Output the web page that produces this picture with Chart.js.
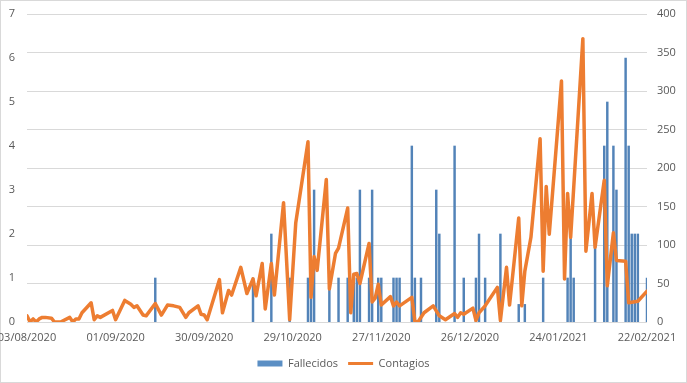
<!DOCTYPE html>
<html><head><meta charset="utf-8">
<script src="https://cdn.jsdelivr.net/npm/chart.js@4.4.1/dist/chart.umd.min.js"></script>
<style>html,body{margin:0;padding:0;background:#fff}#wrap{width:687px;height:383px;position:relative}</style>
</head><body><div id="wrap"><canvas id="c" width="687" height="383"></canvas></div>
<script>
// x-axis tick labels (every 29 days from 03/08/2020)
const tickLabels = ['03/08/2020','01/09/2020','30/09/2020','29/10/2020','27/11/2020','26/12/2020','24/01/2021','22/02/2021'];
const tickStepDays = 29;
const lastDay = 203;

// Fallecidos (left axis) : day offset from 03/08/2020 and value
const fallecidosDays   = [42,74,80,86,92,93,94,99,102,105,107,108,109,112,113,115,116,120,121,122,126,127,129,134,135,140,143,147,148,150,155,161,163,169,177,178,179,186,189,190,192,193,196,197,198,199,200,203];
const fallecidosValues = [1, 1, 2, 1, 1, 1, 3, 1, 1,  1,  1,  1,  3,  1,  3,  1,  1,  1,  1,  1,  4,  1,  1,  3,  2,  4,  1,  1,  2,  1,  2,  0.4,0.4,1, 1,  2,  1,  2,  4,  5,  4,  3,  6,  4,  2,  2,  2,  1];

// Contagios (right axis)
const contagiosDays   = [0,1,2,3,4,5,6,8,9,11,14,15,16,17,18,21,22,23,24,28,29,32,34,35,36,38,39,42,44,46,48,50,52,53,56,57,58,59,63,64,66,67,70,72,74,75,77,78,80,81,84,86,88,92,93,94,95,98,99,101,102,105,106,107,108,109,112,113,114,115,116,119,120,121,122,126,127,128,130,133,135,137,140,141,142,143,146,147,148,150,154,155,157,158,161,162,163,165,168,169,170,171,175,176,177,178,182,183,185,186,189,190,192,193,196,197,200,203];
const contagiosValues = [8,0,4,0,4,6,6,5,0,0,6,0,4,4,12,25,3,8,6,15,3,28,23,19,21,9,8,24,9,22,21,19,6,12,21,10,9,3,55,12,41,35,71,37,56,34,76,17,76,35,155,3,129,234,32,85,67,185,43,89,96,148,12,62,63,50,102,26,31,49,22,33,21,26,21,32,1,0,12,21,8,3,11,6,12,10,18,2,12,21,45,2,71,22,135,21,66,110,238,66,176,114,313,56,167,110,368,92,167,97,184,47,116,80,79,25,27,40];

const barData = fallecidosDays.map((d, i) => ({x: d, y: fallecidosValues[i]}));
const lineData = contagiosDays.map((d, i) => ({x: d, y: contagiosValues[i]}));

const textColor = '#595959';
const gridColor = '#d9d9d9';
const fontFam = "'Open Sans', 'Liberation Sans', sans-serif";

const frame = {
  id: 'frame',
  beforeDraw(chart) {
    const ctx = chart.ctx;
    ctx.save();
    ctx.fillStyle = '#fff';
    ctx.fillRect(0, 0, chart.width, chart.height);
    ctx.strokeStyle = '#d9d9d9';
    ctx.lineWidth = 1;
    ctx.strokeRect(0.5, 0.5, chart.width - 1, chart.height - 1);
    ctx.restore();
  }
};

new Chart(document.getElementById('c'), {
  type: 'bar',
  data: {
    datasets: [
      {
        label: 'Fallecidos',
        data: barData,
        yAxisID: 'yL',
        backgroundColor: '#5283B8',
        borderWidth: 0,
        barThickness: 1.8,
        order: 1
      },
      {
        type: 'line',
        label: 'Contagios',
        data: lineData,
        yAxisID: 'yR',
        borderColor: '#ED7D31',
        backgroundColor: '#ED7D31',
        borderWidth: 3.5,
        pointRadius: 0,
        tension: 0,
        borderJoinStyle: 'round',
        borderCapStyle: 'round',
        order: 0
      }
    ]
  },
  options: {
    responsive: false,
    animation: false,
    devicePixelRatio: 1,
    layout: { padding: { left: 0, right: 0, top: 14, bottom: 4 } },
    plugins: {
      tooltip: { enabled: false },
      legend: {
        position: 'bottom',
        labels: {
          color: textColor,
          font: { family: fontFam, size: 11 },
          usePointStyle: true,
          pointStyleWidth: 25,
          boxHeight: 6,
          padding: 10,
          generateLabels(chart) {
            const items = Chart.defaults.plugins.legend.labels.generateLabels(chart);
            items.forEach(it => {
              if (it.datasetIndex === 0) { it.pointStyle = 'rect'; it.lineWidth = 0; it.fillStyle = '#5B8FC4'; }
              else { it.pointStyle = 'line'; it.lineWidth = 3; }
            });
            return items.sort((a, b) => a.datasetIndex - b.datasetIndex);
          }
        }
      }
    },
    scales: {
      x: {
        type: 'linear',
        min: 0,
        max: lastDay,
        offset: false,
        grid: { display: false, drawTicks: false },
        border: { display: false },
        ticks: {
          stepSize: tickStepDays,
          autoSkip: false,
          maxRotation: 0,
          padding: 9,
          color: textColor,
          font: { family: fontFam, size: 11 },
          callback: (v) => tickLabels[Math.round(v / tickStepDays)]
        },
        afterFit(s) { s.height = 26; s.paddingLeft = 0; s.paddingRight = 0; }
      },
      yL: {
        position: 'left',
        min: 0,
        max: 7,
        grid: { display: false, drawTicks: false },
        border: { display: false },
        ticks: { stepSize: 1, color: textColor, padding: 12, font: { family: fontFam, size: 11 } },
        afterFit(s) { s.width = 27; s.paddingTop = 0; s.paddingBottom = 0; }
      },
      yR: {
        position: 'right',
        min: 0,
        max: 400,
        grid: { color: gridColor, lineWidth: 1, drawTicks: false },
        border: { display: false },
        ticks: { stepSize: 50, color: textColor, padding: 10, font: { family: fontFam, size: 11 } },
        afterFit(s) { s.width = 40; s.paddingTop = 0; s.paddingBottom = 0; }
      }
    }
  },
  plugins: [frame]
});
</script>
</body></html>
